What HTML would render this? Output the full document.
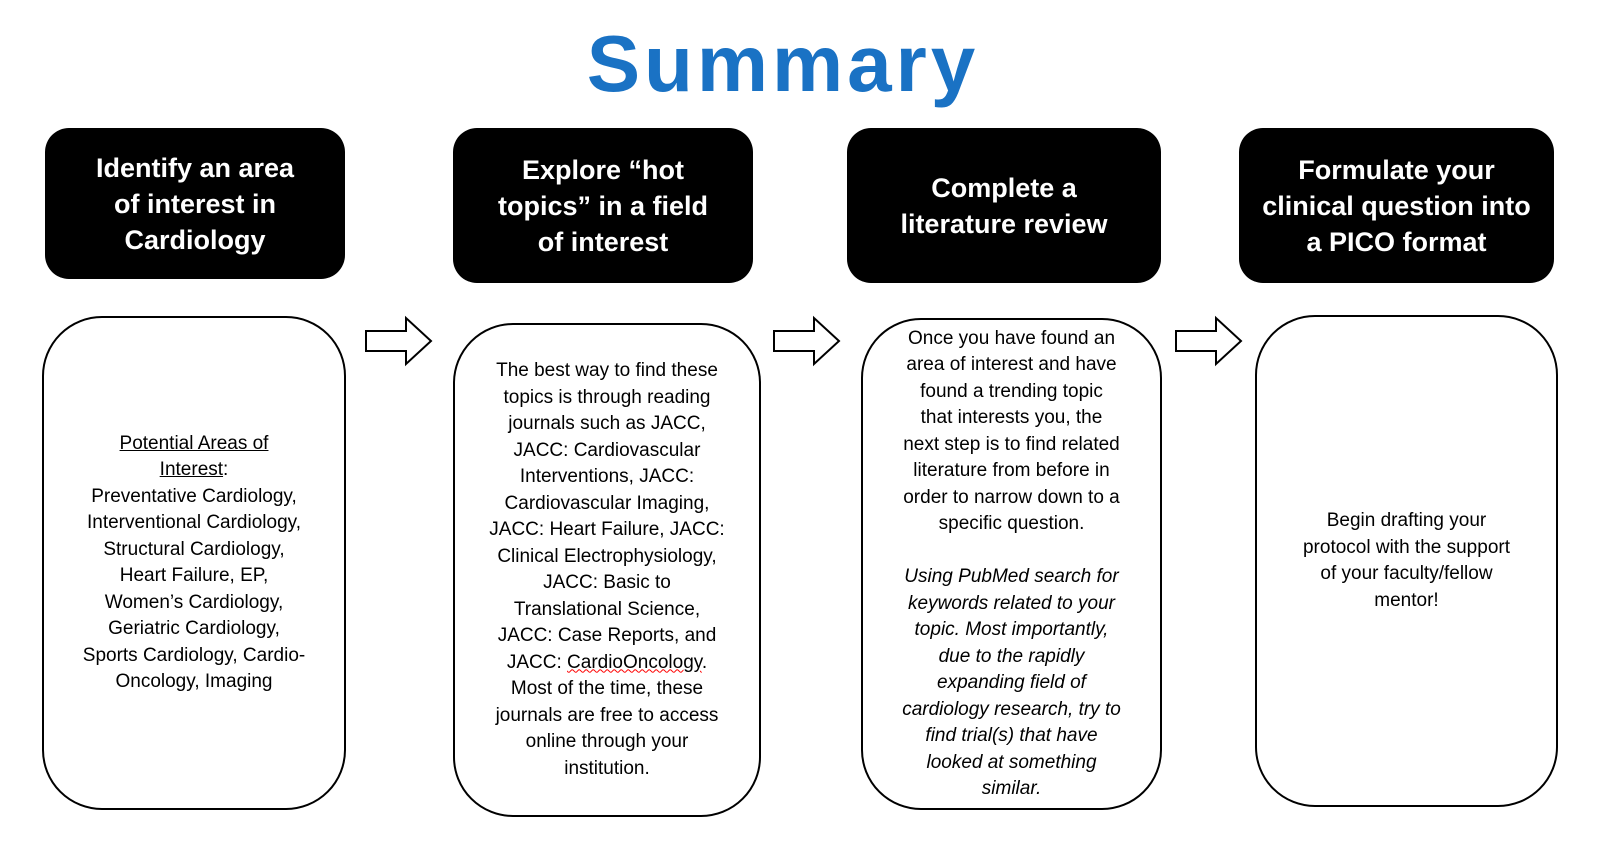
<!DOCTYPE html>
<html><head><meta charset="utf-8"><style>
body{margin:0;width:1600px;height:850px;background:#fff;position:relative;overflow:hidden;font-family:"Liberation Sans",sans-serif}
.t{position:absolute;left:0;width:1566px;text-align:center;top:18px;font-size:80px;font-weight:bold;color:#1a72c4;letter-spacing:4px}
.h{position:absolute;background:#000;color:#fff;border-radius:24px;display:flex;align-items:center;justify-content:center;text-align:center;font-weight:bold;font-size:27px;line-height:36px}
.b{position:absolute;border:2px solid #000;border-radius:60px;box-sizing:border-box;display:flex;align-items:center;justify-content:center;text-align:center;font-size:19px;line-height:26.5px;white-space:nowrap}
.w{text-decoration:underline wavy red;text-decoration-thickness:1px}
svg{position:absolute}
</style></head><body>
<div class="t">Summary</div>
<div class="h" style="left:45px;top:128px;width:300px;height:151px">Identify an area<br>of interest in<br>Cardiology</div>
<div class="h" style="left:453px;top:128px;width:300px;height:155px">Explore “hot<br>topics” in a field<br>of interest</div>
<div class="h" style="left:847px;top:128px;width:314px;height:155px">Complete a<br>literature review</div>
<div class="h" style="left:1239px;top:128px;width:315px;height:155px">Formulate your<br>clinical question into<br>a PICO format</div>

<div class="b" style="left:42px;top:316px;width:304px;height:494px"><div><u>Potential Areas of</u><br><u>Interest</u>:<br>Preventative Cardiology,<br>Interventional Cardiology,<br>Structural Cardiology,<br>Heart Failure, EP,<br>Women’s Cardiology,<br>Geriatric Cardiology,<br>Sports Cardiology, Cardio-<br>Oncology, Imaging</div></div>
<div class="b" style="left:453px;top:323px;width:308px;height:494px"><div>The best way to find these<br>topics is through reading<br>journals such as JACC,<br>JACC: Cardiovascular<br>Interventions, JACC:<br>Cardiovascular Imaging,<br>JACC: Heart Failure, JACC:<br>Clinical Electrophysiology,<br>JACC: Basic to<br>Translational Science,<br>JACC: Case Reports, and<br>JACC: <span class="w">CardioOncology</span>.<br>Most of the time, these<br>journals are free to access<br>online through your<br>institution.</div></div>
<div class="b" style="left:861px;top:318px;width:301px;height:492px"><div>Once you have found an<br>area of interest and have<br>found a trending topic<br>that interests you, the<br>next step is to find related<br>literature from before in<br>order to narrow down to a<br>specific question.<br><br><i>Using PubMed search for<br>keywords related to your<br>topic. Most importantly,<br>due to the rapidly<br>expanding field of<br>cardiology research, try to<br>find trial(s) that have<br>looked at something<br>similar.</i></div></div>
<div class="b" style="left:1255px;top:315px;width:303px;height:492px"><div>Begin drafting your<br>protocol with the support<br>of your faculty/fellow<br>mentor!</div></div>

<svg width="1600" height="850" style="left:0;top:0">
<g fill="#fff" stroke="#000" stroke-width="2">
<polygon points="366,331 406,331 406,318 431,341 406,364 406,351 366,351"/>
<polygon points="774,331 814,331 814,318 839,341 814,364 814,351 774,351"/>
<polygon points="1176,331 1216,331 1216,318 1241,341 1216,364 1216,351 1176,351"/>
</g></svg>
</body></html>
